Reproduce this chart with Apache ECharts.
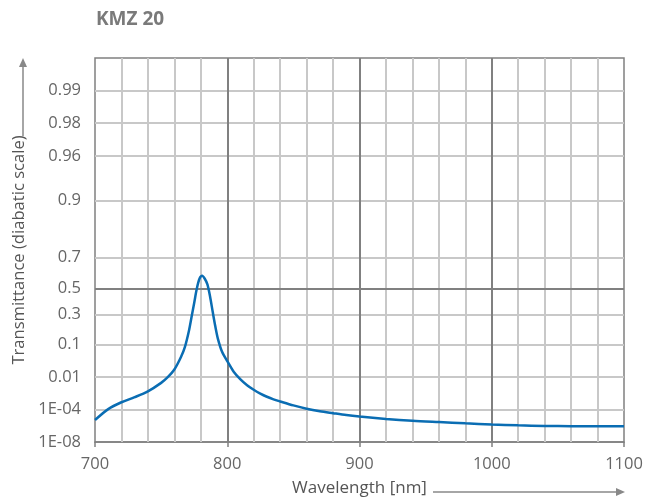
<!DOCTYPE html>
<html>
<head>
<meta charset="utf-8">
<script src="https://cdn.jsdelivr.net/npm/echarts@6/dist/echarts.min.js"></script>
<style>html,body{margin:0;padding:0;background:#fff}#c{width:660px;height:502px}</style>
</head>
<body>
<div id="c"></div>
<script>
// Wavelength [nm]
const wavelength = [700,710,720,730,740,750,755,760,765,768,771,773,775,777,779,781,783,785,787,789,791,793,796,800,805,810,815,820,825,830,835,840,850,860,870,880,890,900,920,940,960,980,1000,1020,1040,1060,1080,1100];
// Transmittance
const transmittance = [1.0e-5,1.1e-4,3.8e-4,8.5e-4,1.95e-3,5.5e-3,0.01,0.02,0.05,0.09,0.18,0.28,0.39,0.50,0.57,0.59,0.57,0.53,0.44,0.32,0.21,0.13,0.07,0.0382,0.0162,0.0080,0.0042,0.0024,1.44e-3,9.1e-4,6.1e-4,4.35e-4,2.2e-4,1.19e-4,7.2e-5,4.8e-5,3.2e-5,2.3e-5,1.3e-5,8.2e-6,5.9e-6,4.3e-6,3.2e-6,2.5e-6,2.1e-6,2.0e-6,2.0e-6,2.0e-6];
const yTicks = [0.99,0.98,0.96,0.9,0.7,0.5,0.3,0.1,0.01,1e-4,1e-8];
const yTickLabels = ['0.99','0.98','0.96','0.9','0.7','0.5','0.3','0.1','0.01','1E-04','1E-08'];
const xMajor = [700,800,900,1000,1100];
const xMin = 700, xMax = 1100, xMinorStep = 20;
const yTop = 0.995;

// diabatic scale transform
const D = t => Math.log10(Math.log10(1 / t));

const chart = echarts.init(document.getElementById('c'));
const font = '"Open Sans", "Noto Sans", sans-serif';
const yVals = yTicks.map(D);
const LIGHT = '#c8c8c8';
const DARK = '#808080';

const xMinor = [];
for (let v = xMin + xMinorStep; v < xMax; v += xMinorStep) if (xMajor.indexOf(v) < 0) xMinor.push(v);

const hLines = yTicks.slice(0, -1).filter(t => t !== 0.5).map(t => ({
  yAxis: D(t), lineStyle: { color: LIGHT, width: 2, type: 'solid' }
}));
const vMinor = xMinor.map(v => ({
  xAxis: v, lineStyle: { color: LIGHT, width: 2, type: 'solid' }
}));
const darkLines = [{ yAxis: D(0.5), lineStyle: { color: DARK, width: 2, type: 'solid' } }].concat(
  xMajor.slice(1, -1).map(v => ({ xAxis: v, lineStyle: { color: DARK, width: 2, type: 'solid' } })));

chart.setOption({
  animation: false,
  title: {
    text: 'KMZ 20', left: 91, top: 5,
    textStyle: { fontFamily: font, fontSize: 19, fontWeight: 'bold', color: '#7a7a7a' }
  },
  grid: { left: 95, right: 36, top: 58, bottom: 57, show: true, borderColor: DARK, borderWidth: 1.5 },
  xAxis: {
    type: 'value', min: xMin, max: xMax, interval: 100,
    name: 'Wavelength [nm]', nameLocation: 'middle', nameGap: 38,
    nameTextStyle: { fontFamily: font, fontSize: 17, color: '#555' },
    axisLine: { show: true, onZero: false, lineStyle: { color: DARK, width: 1.5 } },
    axisTick: { show: true, length: 5, lineStyle: { color: DARK, width: 1.5 } },
    axisLabel: { margin: 14, fontFamily: font, fontSize: 16.5, color: '#666', formatter: v => String(v) },
    splitLine: { show: false }
  },
  yAxis: {
    type: 'value', inverse: true, min: D(yTop), max: D(1e-8),
    name: 'Transmittance (diabatic scale)', nameLocation: 'middle', nameGap: 67, nameRotate: 90,
    nameTextStyle: { fontFamily: font, fontSize: 16.6, color: '#555' },
    axisLine: { show: false, onZero: false },
    axisTick: { show: false },
    splitLine: { show: false },
    axisLabel: {
      customValues: yVals, margin: 14, fontFamily: font, fontSize: 16.5, color: '#666',
      formatter: v => {
        let best = 0, bd = Infinity;
        yVals.forEach((y, i) => { const d = Math.abs(y - v); if (d < bd) { bd = d; best = i; } });
        return yTickLabels[best];
      }
    }
  },
  graphic: [
    { type: 'line', shape: { x1: 23, y1: 136, x2: 23, y2: 66 }, style: { stroke: '#888', lineWidth: 1.5 } },
    { type: 'polygon', shape: { points: [[19, 67], [27, 67], [23, 58]] }, style: { fill: '#888' } },
    { type: 'line', shape: { x1: 433, y1: 492, x2: 617, y2: 492 }, style: { stroke: '#888', lineWidth: 1.5 } },
    { type: 'polygon', shape: { points: [[616, 488], [616, 496], [625, 492]] }, style: { fill: '#888' } }
  ],
  series: [
    {
      type: 'line', data: [[700, D(0.5)]], silent: true, showSymbol: false, lineStyle: { opacity: 0 }, z: 1,
      markLine: { silent: true, symbol: 'none', label: { show: false }, animation: false, data: hLines.concat(vMinor) }
    },
    {
      type: 'line', data: [[700, D(0.5)]], silent: true, showSymbol: false, lineStyle: { opacity: 0 }, z: 2,
      markLine: { silent: true, symbol: 'none', label: { show: false }, animation: false, data: darkLines }
    },
    {
      type: 'line', smooth: 0.3, showSymbol: false, symbol: 'none',
      data: wavelength.map((w, i) => [w, D(transmittance[i])]),
      lineStyle: { color: '#0a6db3', width: 2.5 },
      z: 5
    }
  ]
});
</script>
</body>
</html>
